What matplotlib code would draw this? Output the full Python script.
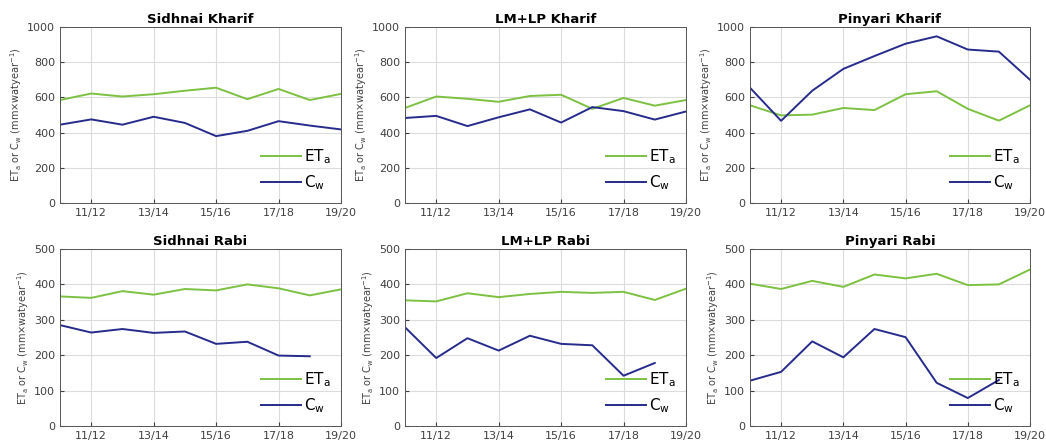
import matplotlib.pyplot as plt

# === DATA ===
SEASONS = ["10/11", "11/12", "12/13", "13/14", "14/15",
           "15/16", "16/17", "17/18", "18/19", "19/20"]
TICK_LABELS = ["11/12", "13/14", "15/16", "17/18", "19/20"]

sidhnai_kharif_eta = [585, 622, 605, 618, 638, 655, 590, 648, 585, 620]
sidhnai_kharif_cw = [445, 475, 445, 490, 455, 380, 410, 465, 440, 418]

lmlp_kharif_eta = [540, 605, 592, 575, 608, 615, 535, 597, 553, 585]
lmlp_kharif_cw = [483, 495, 437, 487, 532, 457, 545, 522, 474, 520]

pinyari_kharif_eta = [555, 498, 502, 540, 528, 618, 635, 535, 468, 555]
pinyari_kharif_cw = [655, 467, 638, 762, 835, 905, 947, 872, 860, 700]

sidhnai_rabi_eta = [366, 362, 381, 371, 387, 383, 400, 389, 369, 386]
sidhnai_rabi_cw = [285, 264, 274, 263, 267, 232, 238, 199, 197]

lmlp_rabi_eta = [355, 352, 375, 364, 373, 379, 376, 379, 356, 388]
lmlp_rabi_cw = [279, 192, 248, 213, 255, 232, 228, 142, 178]

pinyari_rabi_eta = [402, 387, 410, 393, 428, 417, 430, 398, 400, 442]
pinyari_rabi_cw = [128, 153, 239, 194, 274, 251, 122, 79, 130]

PANELS = [
    ("Sidhnai Kharif", sidhnai_kharif_eta, sidhnai_kharif_cw, 1000),
    ("LM+LP Kharif", lmlp_kharif_eta, lmlp_kharif_cw, 1000),
    ("Pinyari Kharif", pinyari_kharif_eta, pinyari_kharif_cw, 1000),
    ("Sidhnai Rabi", sidhnai_rabi_eta, sidhnai_rabi_cw, 500),
    ("LM+LP Rabi", lmlp_rabi_eta, lmlp_rabi_cw, 500),
    ("Pinyari Rabi", pinyari_rabi_eta, pinyari_rabi_cw, 500),
]

GREEN = "#7cc142"
BLUE = "#262b8c"
GRAY = "#404040"

W, H = 1046, 446
fig = plt.figure(figsize=(W / 100, H / 100), dpi=100)

lefts = [60, 405, 750]
rights = [341, 686, 1030]
tops = [27, 249]
bottoms = [203, 426]

for i, (title, eta, cw, ymax) in enumerate(PANELS):
    r, c = divmod(i, 3)
    ax = fig.add_axes([lefts[c] / W, 1 - bottoms[r] / H,
                       (rights[c] - lefts[c]) / W, (bottoms[r] - tops[r]) / H])
    x_eta = list(range(len(eta)))
    x_cw = list(range(len(cw)))
    ax.plot(x_eta, eta, color=GREEN, lw=1.4, label="ET$_\\mathregular{a}$")
    ax.plot(x_cw, cw, color=BLUE, lw=1.4, label="C$_\\mathregular{w}$")
    ax.set_xlim(0, len(SEASONS) - 1)
    ax.set_ylim(0, ymax)
    ax.set_xticks([SEASONS.index(t) for t in TICK_LABELS])
    ax.set_xticklabels(TICK_LABELS)
    ax.set_yticks(range(0, ymax + 1, ymax // 5))
    ax.grid(True, color="#dcdcdc", lw=0.8)
    ax.set_axisbelow(True)
    ax.tick_params(labelsize=8, colors=GRAY, length=3, direction="in")
    for s in ax.spines.values():
        s.set_color("#555555")
        s.set_linewidth(0.7)
    ax.set_title(title, fontsize=9.5, fontweight="bold", pad=3)
    ax.set_ylabel("ET$_\\mathregular{a}$ or C$_\\mathregular{w}$ (mm×watyear$^\\mathregular{-1}$)",
                  fontsize=7, color=GRAY, labelpad=2)
    ax.legend(loc="lower right", frameon=False, fontsize=11, handlelength=2.6,
              handletextpad=0.2, labelspacing=0.5, borderaxespad=0.3)

fig.savefig("out.png", dpi=100)
